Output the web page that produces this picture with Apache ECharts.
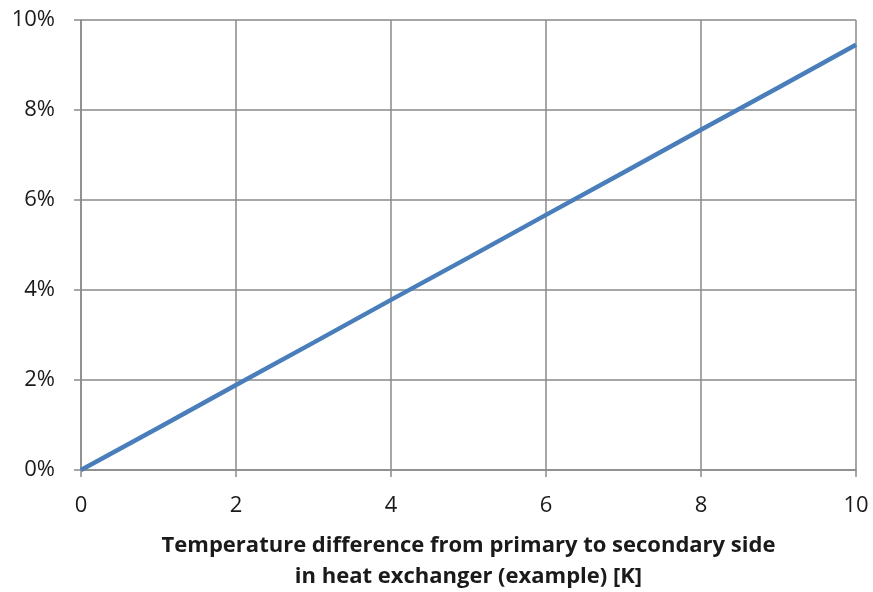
<!DOCTYPE html>
<html>
<head>
<meta charset="utf-8">
<script src="https://cdn.jsdelivr.net/npm/echarts@6/dist/echarts.min.js"></script>
<style>html,body{margin:0;padding:0;background:#fff}#c{width:873px;height:592px}</style>
</head>
<body>
<div id="c"></div>
<script>
var xValues = [0, 1, 2, 3, 4, 5, 6, 7, 8, 9, 10];
var yValues = [0, 0.94, 1.89, 2.83, 3.78, 4.72, 5.67, 6.61, 7.56, 8.50, 9.45];
var xTitle = "Temperature difference from primary to secondary side\nin heat exchanger (example) [K]";

var gridColor = '#8a8a8a';
var font = '"Open Sans", "Liberation Sans", sans-serif';
var chart = echarts.init(document.getElementById('c'));
chart.setOption({
  animation: false,
  grid: {left: 81, right: 17, top: 20, bottom: 122, containLabel: false, outerBoundsMode: 'none'},
  xAxis: {
    type: 'value', min: 0, max: 10, interval: 2,
    axisLine: {show: true, lineStyle: {color: gridColor, width: 1.5}},
    axisTick: {show: true, length: 7, lineStyle: {color: gridColor, width: 1.5}},
    splitLine: {show: true, lineStyle: {color: gridColor, width: 1.5}},
    axisLabel: {color: '#1a1a1a', fontSize: 22, fontFamily: font, margin: 25},
    name: xTitle, nameLocation: 'middle', nameGap: 60,
    nameTextStyle: {color: '#1a1a1a', fontSize: 22, fontWeight: 'bold', fontFamily: font, lineHeight: 31}
  },
  yAxis: {
    type: 'value', min: 0, max: 10, interval: 2,
    axisLine: {show: true, lineStyle: {color: gridColor, width: 1.5}},
    axisTick: {show: true, length: 7, lineStyle: {color: gridColor, width: 1.5}},
    splitLine: {show: true, lineStyle: {color: gridColor, width: 1.5}},
    axisLabel: {color: '#1a1a1a', fontSize: 22, fontFamily: font, margin: 26, formatter: '{value}%'}
  },
  series: [{
    type: 'line',
    data: xValues.map(function (x, i) { return [x, yValues[i]]; }),
    showSymbol: false,
    lineStyle: {color: '#4a7ebb', width: 4.5},
    clip: false
  }]
});
</script>
</body>
</html>
